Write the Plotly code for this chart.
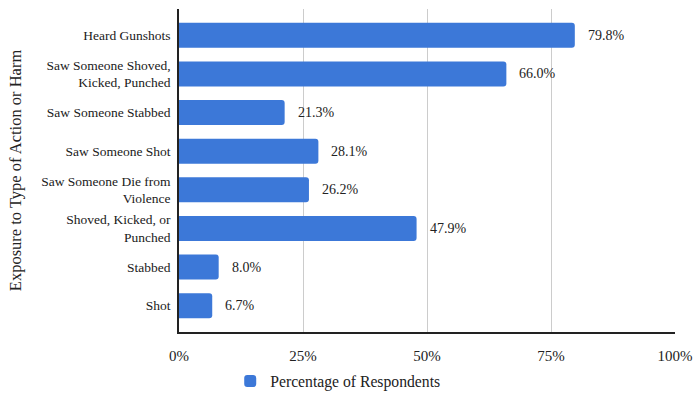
import plotly.graph_objects as go

# Survey responses: share of respondents exposed to each type of action or harm
categories = [
    "Heard Gunshots",
    "Saw Someone Shoved,<br>Kicked, Punched",
    "Saw Someone Stabbed",
    "Saw Someone Shot",
    "Saw Someone Die from<br>Violence",
    "Shoved, Kicked, or<br>Punched",
    "Stabbed",
    "Shot",
]
percentages = [79.8, 66.0, 21.3, 28.1, 26.2, 47.9, 8.0, 6.7]
x_ticks = [0, 25, 50, 75, 100]
x_tick_labels = ["0%", "25%", "50%", "75%", "100%"]

FONT = "Liberation Serif"
BAR_COLOR = "#3c78d8"

fig = go.Figure()
fig.add_trace(go.Bar(
    x=percentages,
    y=categories,
    orientation="h",
    name="Percentage of Respondents",
    marker=dict(color=BAR_COLOR, line=dict(width=0)),
    hoverinfo="x+y",
))

# Value labels placed just past the end of each bar
for cat, val in zip(categories, percentages):
    fig.add_annotation(
        x=val, y=cat, text=f"{val:.1f}%",
        xanchor="left", yanchor="middle", xshift=11,
        showarrow=False,
        font=dict(family=FONT, size=14, color="#222222"),
    )

fig.update_layout(
    width=693, height=394,
    margin=dict(l=179, r=18, t=9, b=62, autoexpand=False),
    paper_bgcolor="white",
    plot_bgcolor="white",
    font=dict(family=FONT, size=14, color="#222222"),
    bargap=0.354,
    barcornerradius=3,
    showlegend=True,
    legend=dict(
        orientation="h",
        x=0.32, xanchor="center",
        y=-0.1, yanchor="top",
        font=dict(family=FONT, size=15.7, color="#222222"),
        itemwidth=30,
    ),
)

fig.update_xaxes(
    range=[0, 100],
    tickvals=x_ticks,
    ticktext=x_tick_labels,
    showgrid=True,
    gridcolor="#cccccc",
    gridwidth=1,
    zeroline=False,
    showline=True,
    linecolor="#222222",
    linewidth=1.5,
    ticks="",
    tickfont=dict(family=FONT, size=15, color="#222222"),
    ticklabelstandoff=9,
    automargin=False,
    fixedrange=True,
)

fig.update_yaxes(
    categoryorder="array",
    categoryarray=categories,
    autorange=False,
    range=[len(categories) - 1 + 0.68, -0.68],
    showgrid=False,
    zeroline=False,
    showline=True,
    linecolor="#222222",
    linewidth=1.5,
    ticks="",
    ticklabelstandoff=4,
    tickfont=dict(family=FONT, size=13.5, color="#1a1a1a"),
    title=dict(
        text="Exposure to Type of Action or Harm",
        font=dict(family=FONT, size=16.5, color="#222222"),
        standoff=15,
    ),
    automargin=False,
    fixedrange=True,
)

fig.write_html("out.html")
